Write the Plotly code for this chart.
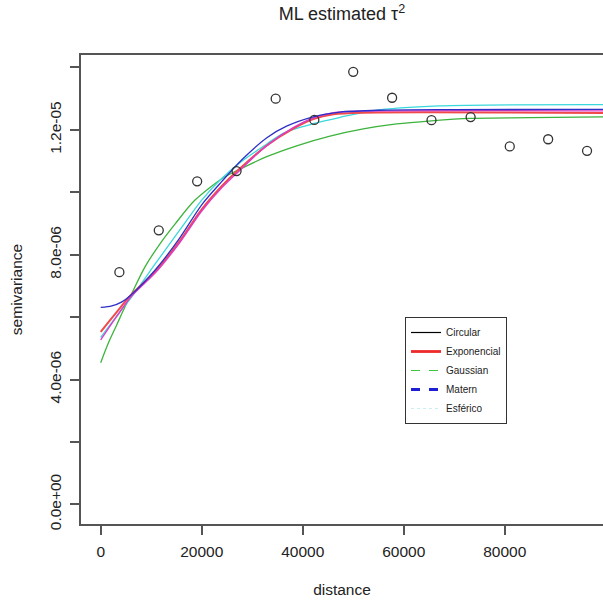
import plotly.graph_objects as go

# empirical semivariogram points
dist = [3700, 11500, 19100, 26900, 34650, 42300, 50000, 57700, 65500, 73250, 81000, 88600, 96300]
semiv = [7.44e-6, 8.78e-6, 10.35e-6, 10.68e-6, 13.0e-6, 12.32e-6, 13.86e-6, 13.03e-6,
         12.31e-6, 12.41e-6, 11.47e-6, 11.70e-6, 11.33e-6]

# fitted curves, values in units of 1e-6
blue_x = [0, 2200, 4200, 6000, 11000, 15700, 20000, 24000, 28000, 32900, 36800, 42100, 47400, 55000, 70000, 99500]
blue_y = [6.31, 6.36, 6.49, 6.71, 7.55, 8.55, 9.6, 10.35, 11.05, 11.75, 12.12, 12.42, 12.57, 12.63, 12.65, 12.66]

red_x = [0, 3000, 6000, 11000, 15700, 20000, 24000, 27000, 32900, 38200, 42100, 46100, 52000, 99500]
red_y = [5.53, 6.13, 6.71, 7.5, 8.45, 9.45, 10.2, 10.68, 11.5, 12.05, 12.35, 12.5, 12.55, 12.54]

mag_x = [0, 3000, 6000, 11000, 15700, 20000, 24000, 27000, 32900, 38200, 42100, 46100, 52000, 99500]
mag_y = [5.27, 5.98, 6.65, 7.45, 8.4, 9.4, 10.15, 10.62, 11.5, 12.08, 12.38, 12.55, 12.6, 12.61]

cyan_x = [0, 3000, 6000, 11000, 15700, 20000, 24000, 28000, 32900, 36200, 42100, 47400, 54000, 67000, 99500]
cyan_y = [5.35, 6.0, 6.62, 7.75, 8.8, 9.75, 10.45, 11.0, 11.55, 11.9, 12.2, 12.4, 12.62, 12.77, 12.81]

green_x = [0, 1500, 3170, 4810, 6000, 8770, 11740, 14710, 18670, 24200, 26930, 32870, 38810,
           45400, 52000, 58600, 65460, 73120, 85000, 99500]
green_y = [4.54, 5.16, 5.75, 6.33, 6.71, 7.61, 8.35, 8.98, 9.75, 10.46, 10.69, 11.14, 11.49,
           11.80, 12.03, 12.19, 12.29, 12.37, 12.39, 12.42]

curves = [
    (green_x, green_y, "#3cb43c", 1.3),
    (cyan_x, cyan_y, "#3ad8dc", 1.3),
    (red_x, red_y, "#f04a4a", 2.0),
    (mag_x, mag_y, "#dc3cc8", 1.4),
    (blue_x, blue_y, "#2e2ec8", 1.3),
]

legend_names = ["Circular", "Exponencial", "Gaussian", "Matern", "Esférico"]
legend_colors = ["#000000", "#ee2a2a", "#3cc83c", "#1e1ed2", "#c8f0f0"]
legend_widths = [1.2, 2.8, 1.2, 2.8, 1.2]
legend_dash = ["solid", "solid", "dash", "dash", "dot"]

yticks = [0, 4e-6, 8e-6, 12e-6]
yticktext = ["0.0e+00", "4.0e-06", "8.0e-06", "1.2e-05"]
yminor = [2e-6, 6e-6, 10e-6, 14e-6]
xticks = [0, 20000, 40000, 60000, 80000]
xticktext = ["0", "20000", "40000", "60000", "80000"]

FONT = "Liberation Sans, Arial, sans-serif"
AX = "#555555"

fig = go.Figure()
for cx, cy, col, w in curves:
    fig.add_trace(go.Scatter(x=cx, y=[v * 1e-6 for v in cy], mode="lines",
                             line=dict(color=col, width=w, shape="spline", smoothing=0.8),
                             showlegend=False, hoverinfo="skip"))

fig.add_trace(go.Scatter(x=dist, y=semiv, mode="markers",
                         marker=dict(symbol="circle-open", size=9, color="#333333",
                                     line=dict(width=1.3, color="#333333")),
                         showlegend=False))

for n, c, w, d in zip(legend_names, legend_colors, legend_widths, legend_dash):
    fig.add_trace(go.Scatter(x=[None], y=[None], mode="lines", name=n,
                             line=dict(color=c, width=w, dash=d)))

fig.update_layout(
    width=603, height=600,
    margin=dict(l=81, r=0, t=55, b=76),
    paper_bgcolor="white", plot_bgcolor="white",
    font=dict(family=FONT, size=15.5, color="#222222"),
    title=dict(text="ML estimated τ<sup>2</sup>", x=0.5, xref="paper", xanchor="center",
               y=1 - 14 / 600, yref="container", yanchor="middle",
               font=dict(family=FONT, size=18, color="#222222")),
    showlegend=True,
    legend=dict(x=(405 - 81) / 522, y=(524 - 317) / 469, xanchor="left", yanchor="top",
                bgcolor="white", bordercolor="#333333", borderwidth=1,
                font=dict(family=FONT, size=10, color="#222222"),
                tracegroupgap=0, itemwidth=30),
    xaxis=dict(range=[-3900, 99460], tickvals=xticks, ticktext=xticktext,
               showgrid=False, zeroline=False, showline=True, mirror=True,
               linecolor=AX, linewidth=1.5, ticks="outside", ticklen=9,
               tickcolor=AX, tickwidth=1.5, ticklabelstandoff=4,
               title=dict(text="distance", standoff=25, font=dict(size=15.5))),
    yaxis=dict(range=[-0.631e-6, 14.40e-6], tickvals=yticks, ticktext=yticktext,
               showgrid=False, zeroline=False, showline=True, mirror=False,
               linecolor=AX, linewidth=1.5, ticks="outside", ticklen=9,
               tickcolor=AX, tickwidth=1.5, tickangle=-90, ticklabelstandoff=3,
               minor=dict(tickmode="array", tickvals=yminor, ticks="outside", ticklen=9,
                          tickcolor=AX, tickwidth=1.5, showgrid=False),
               title=dict(text="semivariance", standoff=21, font=dict(size=15.5))),
)

fig.write_html("out.html", config={"displayModeBar": False},
               post_script="document.body.style.margin='0';")
